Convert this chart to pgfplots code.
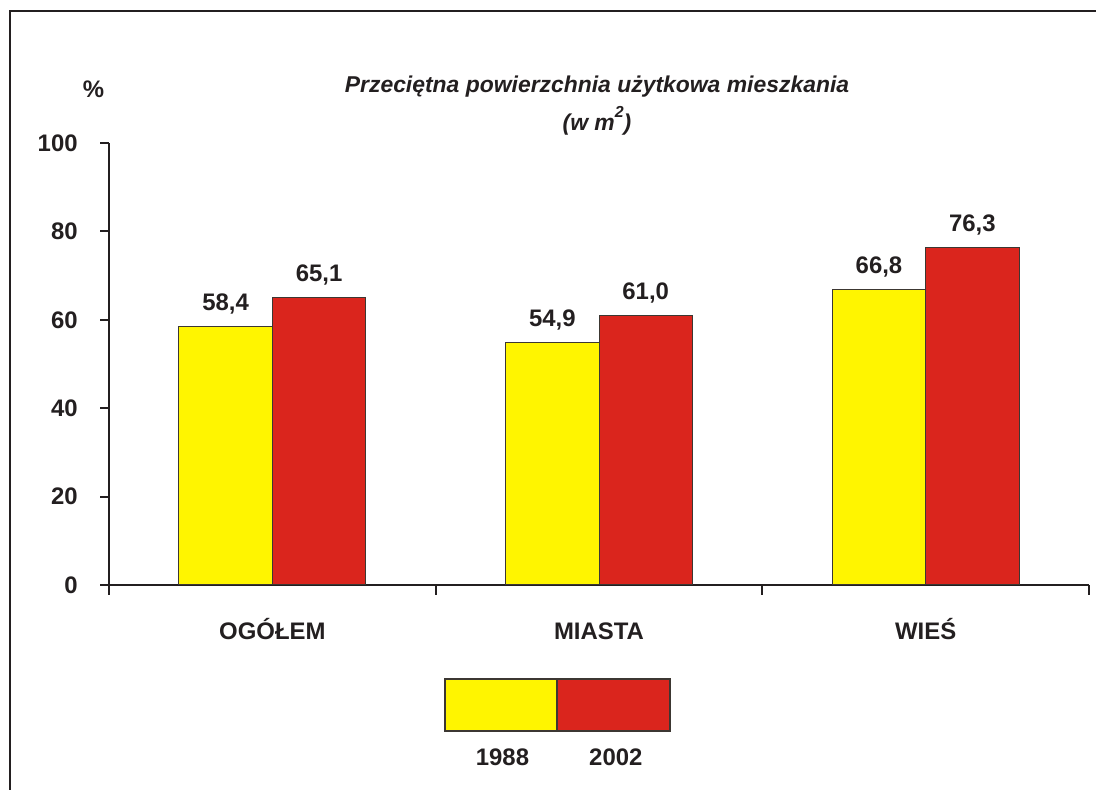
\documentclass[border=0pt]{standalone}
\usepackage{fontspec}
\setmainfont{Liberation Sans}
\usepackage{pgfplots}
\pgfplotsset{compat=1.18}

\definecolor{yfill}{RGB}{255,245,0}
\definecolor{rfill}{RGB}{218,37,29}
\definecolor{ink}{RGB}{35,31,32}
\definecolor{bardraw}{RGB}{60,55,50}

\newcommand{\lbl}{\fontsize{12}{14}\selectfont\bfseries}

\begin{document}
\begin{tikzpicture}
  \useasboundingbox (0,0) rectangle (548bp,395bp);
  % outer frame (only top and left edges are visible)
  \draw[ink, line width=1.2bp] (5bp,0) -- (5bp,389.5bp) -- (548bp,389.5bp);

  \begin{axis}[
      at={(54.5bp,102.5bp)}, anchor=south west,
      scale only axis,
      width=490bp, height=221bp,
      xmin=-0.5, xmax=2.5,
      ymin=0, ymax=100,
      axis x line=bottom, axis y line=left,
      axis line style={-, ink, line width=1bp},
      tick style={ink, line width=1bp},
      tick align=outside,
      major tick length=4.5bp,
      minor tick length=5bp,
      ytick={0,20,40,60,80,100},
      xtick={0,1,2},
      xticklabels={OGÓŁEM, MIASTA, WIEŚ},
      minor xtick={-0.5,0.5,1.5,2.5},
      major x tick style={draw=none},
      /pgf/number format/assume math mode=true,
      ticklabel style={font=\lbl, ink},
      yticklabel style={anchor=east, inner sep=0pt, xshift=-11bp},
      xticklabel style={anchor=base, inner sep=0pt, yshift=-23bp},
      nodes near coords={\pgfmathprintnumber[fixed,fixed zerofill,precision=1,use comma,assume math mode=true]{\pgfplotspointmeta}},
      every node near coord/.append style={font=\lbl, ink, anchor=base, inner sep=0pt, yshift=8bp},
    ]
    % 1988
    \addplot[ybar, bar width=46.7bp, bar shift=-23.35bp, fill=yfill, draw=bardraw, line width=0.5bp,
             every node near coord/.append style={xshift=-23.35bp}]
      coordinates {(0,58.4) (1,54.9) (2,66.8)};
    % 2002
    \addplot[ybar, bar width=46.7bp, bar shift=23.35bp, fill=rfill, draw=bardraw, line width=0.5bp,
             every node near coord/.append style={xshift=23.35bp}]
      coordinates {(0,65.1) (1,61.0) (2,76.3)};
  \end{axis}

  % titles
  \node[anchor=base, inner sep=0pt, font=\lbl, ink] at (46.75bp,346bp) {\%};
  \node[anchor=base, inner sep=0pt, font=\fontsize{11.5}{13}\selectfont\bfseries\itshape, ink]
    at (298.5bp,348.5bp) {Przeciętna powierzchnia użytkowa mieszkania};
  \node[anchor=base, inner sep=0pt, font=\fontsize{11.5}{13}\selectfont\bfseries\itshape, ink]
    at (298.5bp,329.5bp) {(w m\raisebox{1.1ex}{\fontsize{8}{9}\selectfont 2})};

  % legend
  \draw[bardraw, line width=0.6bp, fill=yfill] (222.5bp,29.5bp) rectangle (278.5bp,55.5bp);
  \draw[bardraw, line width=0.6bp, fill=rfill] (278.5bp,29.5bp) rectangle (335bp,55.5bp);
  \node[anchor=base, inner sep=0pt, font=\lbl, ink] at (251.25bp,12.5bp) {1988};
  \node[anchor=base, inner sep=0pt, font=\lbl, ink] at (307.9bp,12.5bp) {2002};
\end{tikzpicture}
\end{document}
